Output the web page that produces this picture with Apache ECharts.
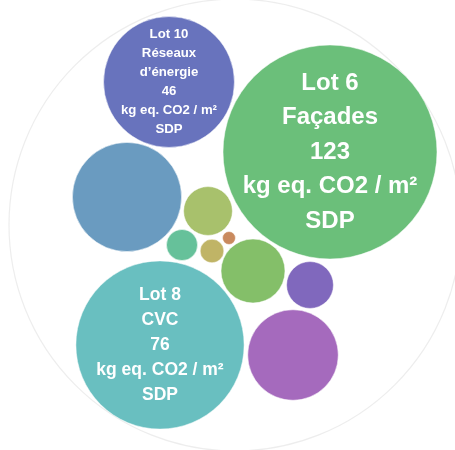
<!DOCTYPE html>
<html>
<head>
<meta charset="utf-8">
<script src="https://cdn.jsdelivr.net/npm/echarts@6/dist/echarts.min.js"></script>
<style>
  html, body { margin: 0; padding: 0; background: #fff; }
  #chart { width: 455px; height: 450px; }
</style>
</head>
<body>
<div id="chart"></div>
<script>
// bubble data (value = kg eq. CO2 / m² SDP), position in layout units
const lots = ['Lot 6', 'Lot 8', 'Lot 10', 'Lot a', 'Lot b', 'Lot c', 'Lot d', 'Lot e', 'Lot f', 'Lot g', 'Lot h'];
const titles = ['Façades', 'CVC', 'Réseaux\nd’énergie', '', '', '', '', '', '', '', ''];
const values = [123, 76, 46, 32, 22, 11, 6.4, 5.9, 2.6, 1.5, 0.45];
const posX = [330, 160, 169, 127, 293, 253, 208, 310, 182, 212, 229];
const posY = [152, 345, 82, 197, 355, 271, 211, 285, 245, 251, 238];
const colors = ['#6bbf7a', '#69bfc0', '#6873bd', '#6a9bc0', '#a56abd', '#84bf69',
                '#a8c16c', '#8068bd', '#66c19a', '#c0b466', '#c98a5e'];
const unit = 'kg eq. CO2 / m²\nSDP';
// enclosing circle
const outerX = 235, outerY = 225, outerR = 226;

const k = 107 / Math.sqrt(123);

window.addEventListener('load', function () {
    let chart = echarts.init(document.getElementById('chart'));

    let fonts = [[24, 34.5], [17.5, 25], [13.2, 19]];

    let bubbles = values.map(function (v, i) {
        let item = {
            name: lots[i],
            value: [posX[i], posY[i], v],
            itemStyle: { color: colors[i] }
        };
        if (titles[i]) {
            item.label = {
                show: true,
                position: 'inside',
                color: '#fff',
                fontWeight: 'bold',
                fontFamily: '"Liberation Sans Narrow", "Arial Narrow", "Liberation Sans", sans-serif',
                fontSize: fonts[i][0],
                lineHeight: fonts[i][1],
                align: 'center',
                formatter: lots[i] + '\n' + titles[i] + '\n' + v + '\n' + unit
            };
        }
        return item;
    });

    let option = {
        backgroundColor: '#fff',
        animation: false,
        grid: { left: 0, right: 0, top: 0, bottom: 0 },
        xAxis: { type: 'value', min: 0, max: 455, show: false },
        yAxis: { type: 'value', min: 0, max: 450, inverse: true, show: false },
        series: [
            {
                type: 'scatter',
                silent: true,
                z: 1,
                data: [[outerX, outerY]],
                symbolSize: outerR * 2,
                itemStyle: { color: 'rgba(0,0,0,0)', borderColor: '#e8e8e8', borderWidth: 1.2 }
            },
            {
                type: 'scatter',
                z: 2,
                data: bubbles,
                symbolSize: function (val) { return 2 * k * Math.sqrt(val[2]); },
                itemStyle: { opacity: 1, borderColor: 'rgba(255,255,255,0.5)', borderWidth: 1 },
                label: { show: false },
                emphasis: { disabled: true }
            }
        ]
    };
    chart.setOption(option);
});
</script>
</body>
</html>
